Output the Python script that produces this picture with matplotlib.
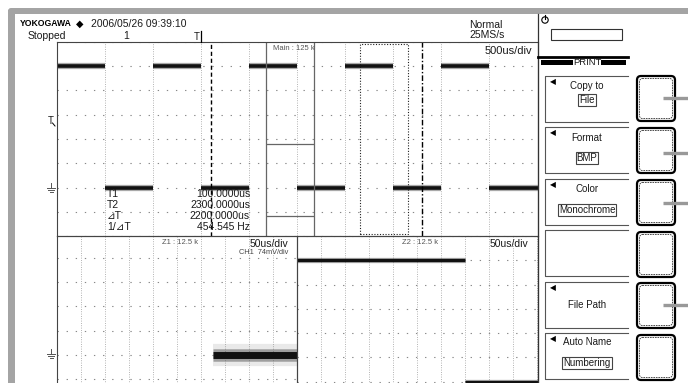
import matplotlib
matplotlib.use('Agg')
import matplotlib.pyplot as plt
from matplotlib.patches import Rectangle, FancyBboxPatch, Circle
import matplotlib.transforms as mtransforms
import numpy as np

# ---------------- data ----------------
time_div_us = 500
zoom_div_us = 50
volt_div_mv = 74
main_t_start_us = -1500
main_t_end_us = 3500
edge_times_us = [-1500, -1000, -500, 0, 500, 1000, 1500, 2000, 2500, 3000, 3500]
levels_mv = [370, 0, 370, 0, 370, 0, 370, 0, 370, 0]
cursor_t1_us = 100
cursor_t2_us = 2300
z1_start_us = 675
z2_start_us = 1650
z1_box_mv = [132, -86]
cursor_labels = ['T1', 'T2', '⊿T', '1/⊿T']
cursor_values = ['100.0000us', '2300.0000us', '2200.0000us', '454.545 Hz']
menu_titles = ['Copy to', 'Format', 'Color', '', 'File Path', 'Auto Name']
menu_values = ['File', 'BMP', 'Monochrome', '', '', 'Numbering']

# ---------------- figure ----------------
W, H = 688, 383
fig = plt.figure(figsize=(W / 100, H / 100), dpi=100)
fig.patch.set_facecolor('white')
FONT = ['Liberation Sans', 'DejaVu Sans']


def ax_px(x0, y0, x1, y1, **kw):
    return fig.add_axes([x0 / W, 1 - y1 / H, (x1 - x0) / W, (y1 - y0) / H], **kw)


def style_scope_axes(ax, t0, t1, tdiv, ylo, yhi):
    ax.set_xlim(t0, t1)
    ax.set_ylim(ylo, yhi)
    ax.set_xticks(np.arange(t0, t1 + tdiv / 2, tdiv))
    ax.tick_params(length=0, labelbottom=False, labelleft=False)
    ax.xaxis.grid(True, color='#9a9a9a', lw=0.6, ls=(0, (1, 1.8)))
    ax.yaxis.grid(True, color='#888888', lw=0.8, ls=(0, (1.2, 7)))
    ax.set_axisbelow(True)
    for s in ax.spines.values():
        s.set_color('#444444')
        s.set_linewidth(0.8)
    ax.patch.set_alpha(0)


def draw_trace(ax, core, fuzz, fuzz2=None, clip=None):
    starts = edge_times_us[:-1]
    ends = edge_times_us[1:]
    layers = []
    if fuzz2:
        layers.append(ax.hlines(levels_mv, starts, ends, color='#888888', lw=fuzz2, alpha=0.18))
    layers.append(ax.hlines(levels_mv, starts, ends, color='#555555', lw=fuzz, alpha=0.5))
    layers.append(ax.hlines(levels_mv, starts, ends, color='#111111', lw=core))
    if clip is not None:
        for l in layers:
            l.set_clip_path(clip)


# main window (ground 6 div below top)
main_lo, main_hi = -2 * volt_div_mv, 6 * volt_div_mv
axm = ax_px(57, 42, 537.5, 236)
style_scope_axes(axm, main_t_start_us, main_t_end_us, time_div_us, main_lo, main_hi)
axm.set_yticks(np.arange(-2, 7) * volt_div_mv)
draw_trace(axm, core=2.6, fuzz=4.5)
axm.axvline(cursor_t1_us, color='black', lw=1.0, ls=(0, (3, 2)))
axm.axvline(cursor_t2_us, color='black', lw=1.0, ls=(0, (4, 1.5, 1, 1.5)))
axm.axvline(z1_start_us, color='#666666', lw=0.9)
axm.axvline(z1_start_us + 10 * zoom_div_us, color='#666666', lw=0.9)
axm.hlines(z1_box_mv, z1_start_us, z1_start_us + 10 * zoom_div_us, color='#666666', lw=0.9)
trans = mtransforms.blended_transform_factory(axm.transData, axm.transAxes)
axm.add_patch(Rectangle((z2_start_us, 0.008), 10 * zoom_div_us, 0.984, transform=trans,
                        fill=False, ec='#222222', lw=0.8, ls=(0, (1, 1.5))))

# zoom 1 (ground 4.9 div below top)
axz1 = ax_px(57, 236, 297, 430)
style_scope_axes(axz1, z1_start_us, z1_start_us + 10 * zoom_div_us, zoom_div_us,
                 -3.1 * volt_div_mv, 4.9 * volt_div_mv)
axz1.set_yticks(np.arange(-3, 5) * volt_div_mv)
clip1 = Rectangle((0, 0), 1, 0.92, transform=axz1.transAxes)
draw_trace(axz1, core=5.0, fuzz=9, fuzz2=16, clip=clip1)

# zoom 2
axz2 = ax_px(297, 236, 537.5, 430)
style_scope_axes(axz2, z2_start_us, z2_start_us + 10 * zoom_div_us, zoom_div_us, main_lo, main_hi)
axz2.set_yticks(np.arange(-2, 7) * volt_div_mv)
draw_trace(axz2, core=2.3, fuzz=3.8)

# ---------------- overlay (frame, text, menu) ----------------
ov = fig.add_axes([0, 0, 1, 1], zorder=10)
ov.set_xlim(0, W)
ov.set_ylim(H, 0)
ov.axis('off')
ov.patch.set_alpha(0)

gray = '#a4a4a4'
ov.add_patch(FancyBboxPatch((8, 8), 690, 6, boxstyle='round,pad=0,rounding_size=3',
                            fc=gray, ec='none'))
ov.add_patch(Rectangle((8, 10), 6.5, 380, fc=gray, ec='none'))
ov.plot([538, 538], [14, 383], color='#333333', lw=0.9)


def txt(x, y, s, size=7.5, ha='left', color='#1a1a1a', **kw):
    ov.text(x, y, s, fontsize=size, ha=ha, va='center', color=color, family=FONT, **kw)


# header
ov.text(20, 24, 'YOKOGAWA', fontsize=6.2, fontweight='bold', va='center', ha='left',
        family=FONT, color='black')
ov.text(76, 24, '◆', fontsize=7, va='center', ha='left', family=['DejaVu Sans'], color='black')
txt(91, 24, '2006/05/26 09:39:10')
txt(28, 36, 'Stopped')
txt(126, 36, '1', ha='center')
txt(197, 37, 'T', size=7, ha='center')
ov.plot([201, 201], [31, 42], color='black', lw=0.9)
txt(469, 25, 'Normal')
txt(469, 35, '25MS/s')

# left markers
txt(51, 121, 'T', size=7, ha='center')
ov.plot([52.5, 55], [123, 126], color='black', lw=0.7)


def ground(x, y):
    ov.plot([x, x], [y - 5, y], color='#555555', lw=0.7)
    ov.plot([x - 4, x + 4], [y, y], color='#555555', lw=0.7)
    ov.plot([x - 3, x + 3], [y + 2, y + 2], color='#555555', lw=0.7)
    ov.plot([x - 1.5, x + 1.5], [y + 4, y + 4], color='#555555', lw=0.7)


ground(51, 188)
ground(51, 354)

# main texts
txt(273, 49, 'Main : 125 k', size=5.5, color='#555555')
txt(532, 51, '500us/div', size=8, ha='right')
row_y = [194, 205, 216, 227]
for lab, val, y in zip(cursor_labels, cursor_values, row_y):
    txt(107, y, lab, size=7.5)
    txt(250, y, val, size=7.5, ha='right')

# zoom texts
txt(162, 243, 'Z1 : 12.5 k', size=5.5, color='#555555')
txt(288, 244, '50us/div', size=7.5, ha='right')
txt(288, 253, 'CH1  74mV/div', size=5.3, ha='right', color='#444444')
txt(402, 243, 'Z2 : 12.5 k', size=5.5, color='#555555')
txt(528, 244, '50us/div', size=7.5, ha='right')

# right panel header
ov.add_patch(Circle((545, 20), 3.2, fill=False, ec='black', lw=0.8))
ov.plot([545, 545], [15, 19], color='black', lw=0.8)
ov.add_patch(Rectangle((551, 29), 71, 11, fill=False, ec='#333333', lw=0.8))
ov.plot([538, 628], [57, 57], color='black', lw=2.0)
ov.add_patch(Rectangle((541, 60), 32, 5, fc='black', ec='none'))
ov.add_patch(Rectangle((601, 60), 25, 5, fc='black', ec='none'))
txt(587, 62.5, 'PRINT', size=6.8, ha='center')

# menu boxes
box_tops = [76, 127, 179, 230, 282, 333]
title_y = [86, 138, 189, None, 305, 342]
value_y = [100, 158, 210, None, None, 363]
for i, top in enumerate(box_tops):
    bot = top + 46
    ov.plot([628, 545, 545, 628], [top, top, bot, bot], color='#555555', lw=0.8)
    if menu_titles[i]:
        ov.text(550, top + 6, '◀', fontsize=5.5, va='center', ha='left',
                family=['DejaVu Sans'], color='black')
        txt(587, title_y[i], menu_titles[i], size=7, ha='center')
    if menu_values[i]:
        ov.text(587, value_y[i], menu_values[i], fontsize=7, ha='center', va='center',
                family=FONT, color='#1a1a1a',
                bbox=dict(boxstyle='square,pad=0.1', fc='white', ec='#444444', lw=0.8))

# softkey buttons
btn_tops = [76, 128, 180, 232, 283, 335]
for top in btn_tops:
    ov.add_patch(FancyBboxPatch((637, top), 38, 45, boxstyle='round,pad=0,rounding_size=4',
                                fc='white', ec='black', lw=1.6))
    ov.add_patch(FancyBboxPatch((639.5, top + 2.5), 33, 40, boxstyle='round,pad=0,rounding_size=3',
                                fill=False, ec='#333333', lw=0.6, ls=(0, (2, 1))))
for y in [98, 153, 203, 305]:
    ov.plot([663, 688], [y, y], color='#999999', lw=2.4, solid_capstyle='butt')

fig.savefig('out.png', dpi=100, facecolor='white')
